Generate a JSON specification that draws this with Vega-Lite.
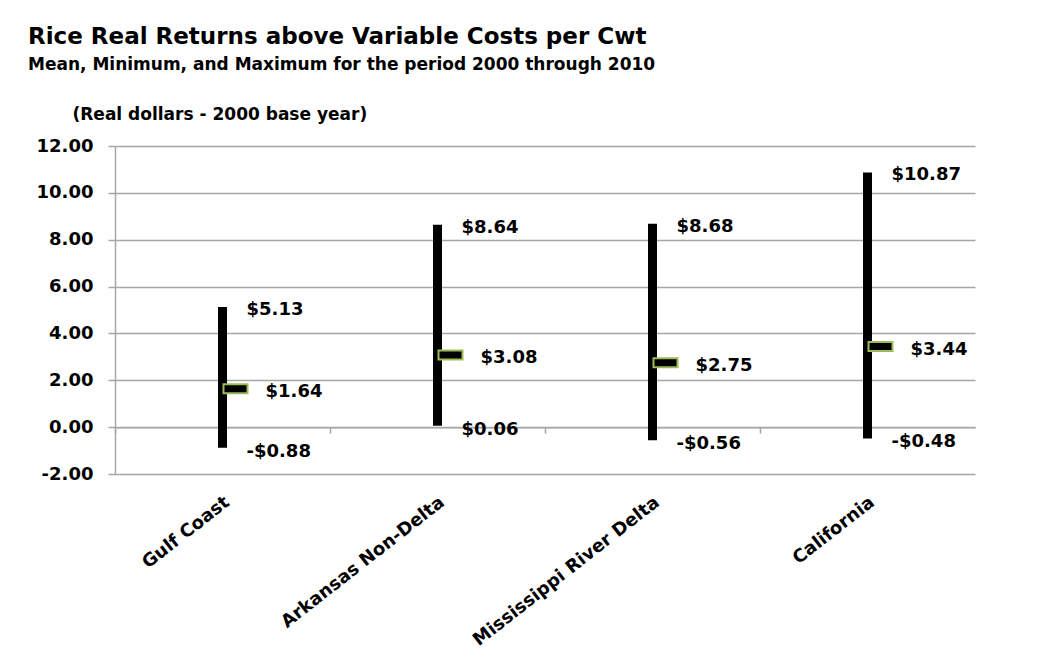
{
  "$schema": "https://vega.github.io/schema/vega-lite/v6.json",
  "autosize": "none",
  "width": 860,
  "height": 328,
  "padding": {"left": 115, "top": 146, "right": 83, "bottom": 191},
  "background": "white",
  "config": {
    "font": "DejaVu Sans",
    "view": {"stroke": null},
    "locale": {
      "number": {"decimal": ".", "thousands": ",", "grouping": [3], "currency": ["$", ""], "minus": "-"}
    }
  },
  "title": {
    "text": "Rice Real Returns above Variable Costs per Cwt",
    "subtitle": "Mean, Minimum, and Maximum for the period 2000 through 2010",
    "anchor": "start",
    "frame": "group",
    "dx": -87,
    "fontSize": 23,
    "fontWeight": "bold",
    "color": "#000",
    "subtitleFontSize": 17,
    "subtitleFontWeight": "bold",
    "subtitleColor": "#000",
    "subtitlePadding": 8,
    "offset": 32
  },
  "data": {
    "values": [
      {"region": "Gulf Coast", "min": -0.88, "mean": 1.64, "max": 5.13},
      {"region": "Arkansas Non-Delta", "min": 0.06, "mean": 3.08, "max": 8.64},
      {"region": "Mississippi River Delta", "min": -0.56, "mean": 2.75, "max": 8.68},
      {"region": "California", "min": -0.48, "mean": 3.44, "max": 10.87}
    ]
  },
  "resolve": {"axis": {"x": "independent"}},
  "layer": [
    {
      "mark": {"type": "rule", "color": "black", "strokeWidth": 9},
      "encoding": {
        "x": {
          "field": "region",
          "type": "nominal",
          "sort": null,
          "scale": {"paddingInner": 0, "paddingOuter": 0},
          "axis": {
            "orient": "bottom",
            "title": null,
            "domain": false,
            "ticks": false,
            "labelAngle": -38,
            "labelAlign": "right",
            "labelBaseline": "middle",
            "labelPadding": 26,
            "labelOffset": 5,
            "labelLimit": 400,
            "labelFontSize": 18,
            "labelFontWeight": "bold",
            "labelColor": "#000"
          }
        },
        "y": {
          "field": "min",
          "type": "quantitative",
          "scale": {"domain": [-2, 12], "nice": false},
          "axis": {
            "values": [-2, 0, 2, 4, 6, 8, 10, 12],
            "format": ".2f",
            "grid": true,
            "gridColor": "#a6a6a6",
            "gridWidth": 1.5,
            "domainColor": "#a6a6a6",
            "domainWidth": 1.5,
            "tickColor": "#a6a6a6",
            "tickWidth": 1.5,
            "tickSize": 7,
            "labelPadding": 15,
            "labelFontSize": 18,
            "labelFontWeight": "bold",
            "labelColor": "#000",
            "title": "(Real dollars - 2000 base year)",
            "titleAngle": 0,
            "titleAlign": "left",
            "titleBaseline": "alphabetic",
            "titleX": -43,
            "titleY": -27,
            "titleFontSize": 17,
            "titleFontWeight": "bold",
            "titleColor": "#000"
          }
        },
        "y2": {"field": "max"}
      }
    },
    {
      "mark": {"type": "tick", "fill": "black", "stroke": "#9bbb59", "strokeWidth": 2, "thickness": 9, "size": 24, "xOffset": 13, "opacity": 1, "orient": "horizontal"},
      "encoding": {
        "x": {
          "field": "region",
          "type": "nominal",
          "sort": null,
          "axis": {
            "orient": "bottom",
            "offset": -46.86,
            "labels": false,
            "title": null,
            "domain": true,
            "domainColor": "#a6a6a6",
            "domainWidth": 1.5,
            "ticks": true,
            "tickColor": "#a6a6a6",
            "tickWidth": 1.5,
            "tickSize": 6,
            "bandPosition": 0,
            "grid": false
          }
        },
        "y": {"field": "mean", "type": "quantitative"}
      }
    },
    {
      "mark": {"type": "text", "align": "left", "baseline": "middle", "dx": 24, "dy": 3, "fontSize": 18, "fontWeight": "bold", "color": "#000"},
      "encoding": {
        "x": {"field": "region", "type": "nominal", "sort": null, "axis": null},
        "y": {"field": "max", "type": "quantitative"},
        "text": {"field": "max", "format": "$.2f"}
      }
    },
    {
      "mark": {"type": "text", "align": "left", "baseline": "middle", "dx": 24, "dy": 4, "fontSize": 18, "fontWeight": "bold", "color": "#000"},
      "encoding": {
        "x": {"field": "region", "type": "nominal", "sort": null, "axis": null},
        "y": {"field": "min", "type": "quantitative"},
        "text": {"field": "min", "format": "$.2f"}
      }
    },
    {
      "mark": {"type": "text", "align": "left", "baseline": "middle", "dx": 43, "dy": 3, "fontSize": 18, "fontWeight": "bold", "color": "#000"},
      "encoding": {
        "x": {"field": "region", "type": "nominal", "sort": null, "axis": null},
        "y": {"field": "mean", "type": "quantitative"},
        "text": {"field": "mean", "format": "$.2f"}
      }
    }
  ]
}
